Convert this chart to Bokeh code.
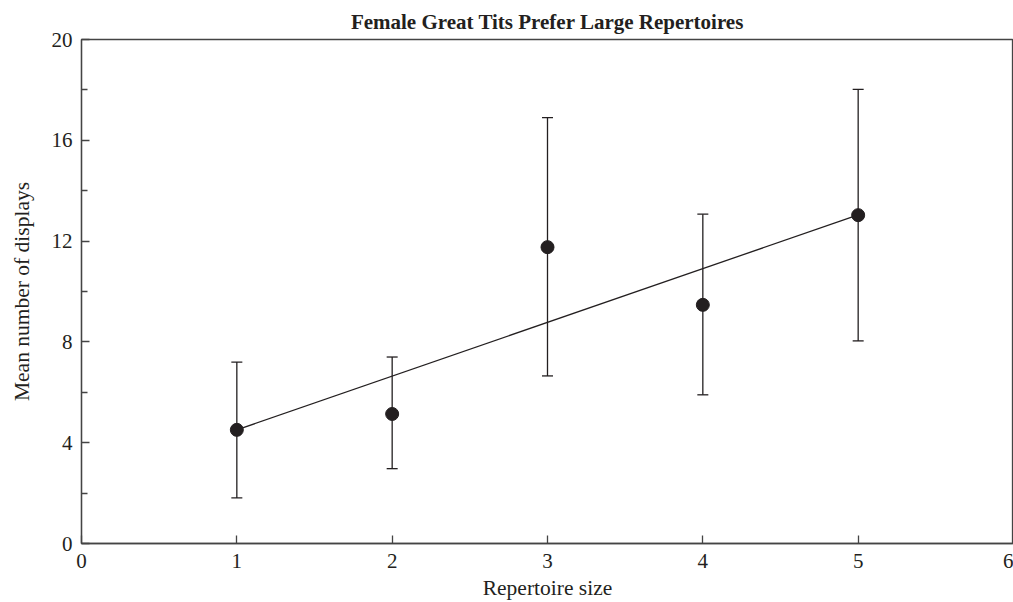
from bokeh.plotting import figure
from bokeh.models import ColumnDataSource, Whisker, TeeHead, FixedTicker, Range1d
from bokeh.embed import file_html
from bokeh.resources import INLINE

repertoire_size = [1, 2, 3, 4, 5]
mean_displays = [4.51, 5.14, 11.76, 9.47, 13.03]
upper_err = [7.2, 7.4, 16.9, 13.07, 18.02]
lower_err = [1.81, 2.97, 6.65, 5.9, 8.04]
trend_x = [1, 5]
trend_y = [4.51, 13.04]
x_ticks = [0, 1, 2, 3, 4, 5, 6]
y_ticks = [0, 4, 8, 12, 16, 20]
y_minor = [2, 6, 10, 14, 18]

FONT = "Liberation Serif"
INK = "#231f20"

p = figure(width=1013, height=602, output_backend="svg", toolbar_location=None,
           x_range=Range1d(0, 6), y_range=Range1d(0, 20),
           title="Female Great Tits Prefer Large Repertoires",
           min_border_left=81, min_border_right=0, min_border_top=39, min_border_bottom=58)
p.title.align = "center"
p.title.text_font = FONT
p.title.text_font_size = "21px"
p.title.text_font_style = "bold"
p.title.text_color = INK
p.title.offset = 0
p.title.standoff = 12

p.grid.visible = False
p.outline_line_color = "#444444"
p.outline_line_width = 1.3
p.background_fill_color = "white"
p.border_fill_color = "white"

src = ColumnDataSource(dict(x=repertoire_size, y=mean_displays, up=upper_err, lo=lower_err))

p.line(trend_x, trend_y, line_color=INK, line_width=1.3)
w = Whisker(source=src, base="x", upper="up", lower="lo", line_color=INK, line_width=1.3,
            upper_head=TeeHead(size=11, line_color=INK, line_width=1.3),
            lower_head=TeeHead(size=11, line_color=INK, line_width=1.3))
p.add_layout(w)
p.scatter("x", "y", source=src, size=13, fill_color=INK, line_color=INK)

p.xaxis.ticker = FixedTicker(ticks=x_ticks)
p.yaxis.ticker = FixedTicker(ticks=y_ticks, minor_ticks=y_minor)
for ax in (p.xaxis, p.yaxis):
    ax.major_tick_in = 8
    ax.major_tick_out = 0
    ax.minor_tick_in = 6
    ax.minor_tick_out = 0
    ax.axis_line_color = "#444444"
    ax.axis_line_width = 1.3
    ax.major_tick_line_color = "#444444"
    ax.minor_tick_line_color = "#444444"
    ax.major_tick_line_width = 1.3
    ax.minor_tick_line_width = 1.3
    ax.major_label_text_font = FONT
    ax.major_label_text_font_size = "21px"
    ax.major_label_text_color = INK
    ax.axis_label_text_font = FONT
    ax.axis_label_text_font_size = "21.5px"
    ax.axis_label_text_font_style = "normal"
    ax.axis_label_text_color = INK
p.xaxis.minor_tick_line_color = None
p.xaxis.axis_label = "Repertoire size"
p.yaxis.axis_label = "Mean number of displays"
p.xaxis.major_label_standoff = 10
p.yaxis.major_label_standoff = 9
p.xaxis.axis_label_standoff = 5
p.yaxis.axis_label_standoff = 15

open("out.html", "w").write(file_html(p, INLINE))
